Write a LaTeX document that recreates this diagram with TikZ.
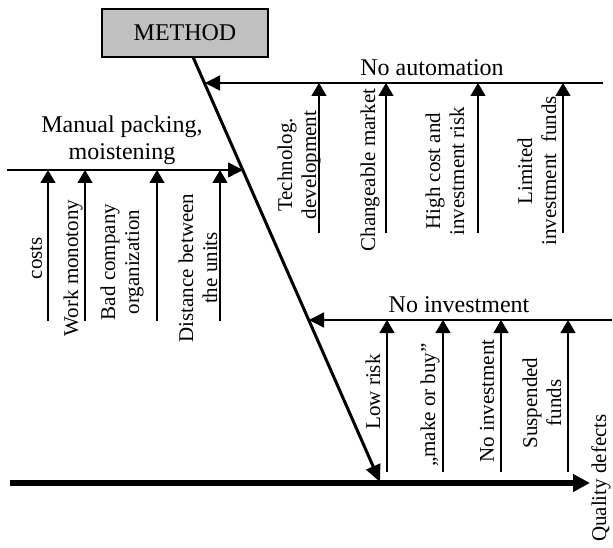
\documentclass[tikz,border=0pt]{standalone}
\usepackage{fontspec}
\setmainfont{Liberation Serif}
\usetikzlibrary{arrows.meta}
\definecolor{boxgray}{RGB}{192,192,192}
\begin{document}
\begin{tikzpicture}[x=1pt,y=-1pt,
  lab/.style={rotate=90, align=center, inner sep=0pt, font=\fontsize{21}{24}\selectfont},
  head/.style={align=center, inner sep=0pt, font=\fontsize{24}{27}\selectfont},
  sub/.style={line width=1.3pt, -{Triangle[length=13pt,width=15pt]}},
  branch/.style={line width=1.6pt, -{Triangle[length=15pt,width=15pt]}},
  ]
\useasboundingbox (0,0) rectangle (613,548);
% method box
\node[draw, line width=1.3pt, fill=boxgray, minimum width=166pt, minimum height=48pt,
      inner sep=0pt, font=\fontsize{24}{27}\selectfont] (method) at (185,33) {METHOD};
% diagonal bone
\coordinate (d1) at (193,57);
\coordinate (d2) at (380,482);
\draw[line width=3pt, -{Triangle[length=17pt,width=15pt]}] (d1) -- (d2);
% spine
\coordinate (s1) at (10,483);
\coordinate (s2) at (590,483);
\draw[line width=6pt, -{Triangle[length=17pt,width=17pt]}] (s1) -- (s2);
\node[lab] (qd) at (601,478) {Quality defects};

% ---- No automation
\coordinate (na0) at (603,83);
\coordinate (na1) at (205,83);
\draw[branch] (na0) -- (na1);
\node[head] (nah) at (432,68) {No automation};
\foreach \i/\x in {1/319,2/386,3/478,4/563}{
  \coordinate (nab\i) at (\x,233);
  \coordinate (nat\i) at (\x,83);
  \draw[sub] (nab\i) -- (nat\i);
}
\node[lab] (t1) at (299,165) {Technolog.\\development};
\node[lab] (t2) at (370,170) {Changeable market};
\node[lab] (t3) at (445,171) {High cost and\\investment risk};
\node[lab] (t4) at (537,171) {Limited\\investment~~funds};

% ---- Manual packing
\coordinate (mp0) at (7,170);
\coordinate (mp1) at (243,170);
\draw[branch] (mp0) -- (mp1);
\node[head] (mph) at (122,140) {Manual packing,\\moistening};
\foreach \i/\x in {1/48,2/85,3/157,4/220}{
  \coordinate (mpb\i) at (\x,321);
  \coordinate (mpt\i) at (\x,170);
  \draw[sub] (mpb\i) -- (mpt\i);
}
\node[lab] (m1) at (36,258) {costs};
\node[lab] (m2) at (73,268) {Work monotony};
\node[lab] (m3) at (122,262) {Bad company\\organization};
\node[lab] (m4) at (198,268) {Distance between\\the units};

% ---- No investment
\coordinate (ni0) at (612,320);
\coordinate (ni1) at (309,320);
\draw[branch] (ni0) -- (ni1);
\node[head] (nih) at (459,305) {No investment};
\foreach \i/\x in {1/387,2/443,3/501,4/568}{
  \coordinate (nib\i) at (\x,472);
  \coordinate (nit\i) at (\x,320);
  \draw[sub] (nib\i) -- (nit\i);
}
\node[lab] (n1) at (373,392) {Low risk};
\node[lab] (n2) at (430,405) {„make or buy”};
\node[lab] (n3) at (487,401) {No investment};
\node[lab] (n4) at (542,403) {Suspended\\funds};
\end{tikzpicture}
\end{document}
